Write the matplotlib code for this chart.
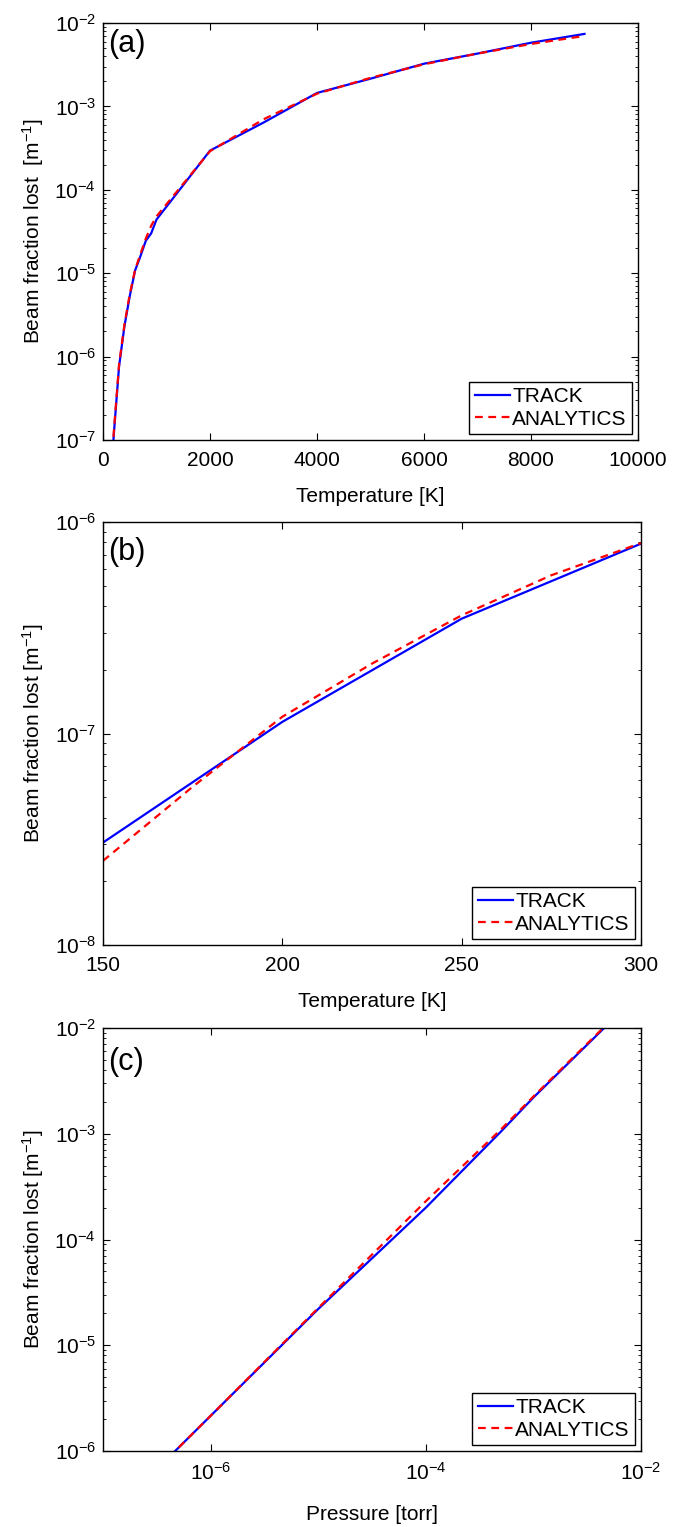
import matplotlib
matplotlib.use("Agg")
import matplotlib.pyplot as plt
from matplotlib.ticker import LogLocator, NullLocator, FixedLocator

plt.rcParams.update({
    "font.family": "Liberation Sans",
    "mathtext.fontset": "custom",
    "mathtext.rm": "Liberation Sans",
    "mathtext.it": "Liberation Sans:italic",
    "font.size": 15,
    "axes.linewidth": 1.0,
    "xtick.direction": "in",
    "ytick.direction": "in",
    "xtick.top": True,
    "ytick.right": True,
    "xtick.major.size": 5,
    "ytick.major.size": 5,
    "xtick.minor.size": 2.5,
    "ytick.minor.size": 2.5,
    "xtick.major.pad": 8,
    "ytick.major.pad": 5,
})

TRACK_COLOR = "#0000ff"
ANALYTIC_COLOR = "#ff0000"

# (a) temperature scan, wide range
temp_a = [150, 200, 300, 400, 500, 600, 700, 800, 900, 1000,
          2000, 3000, 4000, 5000, 6000, 7000, 8000, 9000]
track_a = [3.0e-8, 1.12e-7, 7.6e-7, 2.3e-6, 5.3e-6, 1.08e-5, 1.6e-5, 2.45e-5, 3.0e-5, 4.4e-5,
           2.95e-4, 6.4e-4, 1.45e-3, 2.15e-3, 3.25e-3, 4.3e-3, 5.8e-3, 7.4e-3]
analytic_a = [2.5e-8, 1.2e-7, 8.0e-7, 2.4e-6, 5.6e-6, 1.1e-5, 1.7e-5, 2.6e-5, 3.7e-5, 4.8e-5,
              2.9e-4, 7.0e-4, 1.42e-3, 2.2e-3, 3.2e-3, 4.3e-3, 5.6e-3, 7.0e-3]

# (b) temperature scan, 150-300 K
temp_b_track = [150, 200, 250, 300]
track_b = [3.05e-8, 1.135e-7, 3.49e-7, 7.9e-7]
temp_b_analytic = [150, 175, 200, 225, 250, 275, 300]
analytic_b = [2.5e-8, 5.6e-8, 1.2e-7, 2.14e-7, 3.62e-7, 5.6e-7, 7.95e-7]

# (c) pressure scan
pressure_c = [1e-7, 1e-6, 1e-5, 1e-4, 5e-4, 1e-3, 1e-2]
track_c = [2.1e-7, 2.15e-6, 2.2e-5, 2.0e-4, 1.05e-3, 2.2e-3, 2.2e-2]
analytic_c = [2.1e-7, 2.15e-6, 2.25e-5, 2.3e-4, 1.1e-3, 2.25e-3, 2.25e-2]

W, H = 684, 1527
fig = plt.figure(figsize=(W / 100, H / 100), dpi=100)


def box(left, top, right, bottom):
    return [left / W, 1 - bottom / H, (right - left) / W, (bottom - top) / H]


def draw(ax, x1, y1, x2, y2, label, label_y):
    ax.plot(x1, y1, color=TRACK_COLOR, lw=1.6, label="TRACK")
    ax.plot(x2, y2, color=ANALYTIC_COLOR, lw=1.6, ls=(0, (3.5, 2.5)), label="ANALYTICS")
    ax.set_yscale("log")
    ax.yaxis.set_major_locator(LogLocator(base=10, numticks=20))
    ax.yaxis.set_minor_locator(LogLocator(base=10, subs=range(2, 10), numticks=20))
    ax.text(0.009, label_y, label, transform=ax.transAxes, fontsize=22,
            ha="left", va="top")
    leg = ax.legend(loc="lower right", fontsize=15, frameon=True, fancybox=False,
                    edgecolor="black", framealpha=1, borderaxespad=0.3,
                    handlelength=1.7, handletextpad=0.1, borderpad=0.25,
                    labelspacing=0.15)
    leg.get_frame().set_linewidth(1.0)
    ax.tick_params(which="both", labelsize=15)


ax_a = fig.add_axes(box(103, 23, 638, 440))
draw(ax_a, temp_a, track_a, temp_a, analytic_a, "(a)", 0.985)
ax_a.set_xlim(0, 10000)
ax_a.set_ylim(1e-7, 1e-2)
ax_a.set_xticks([0, 2000, 4000, 6000, 8000, 10000])
ax_a.xaxis.set_minor_locator(NullLocator())
ax_a.set_xlabel("Temperature [K]", labelpad=12)
ax_a.set_ylabel("Beam fraction lost  [m$^{-1}$]", labelpad=6)

ax_b = fig.add_axes(box(103, 522, 641, 945))
draw(ax_b, temp_b_track, track_b, temp_b_analytic, analytic_b, "(b)", 0.965)
ax_b.set_xlim(150, 300)
ax_b.set_ylim(1e-8, 1e-6)
ax_b.set_xticks([150, 200, 250, 300])
ax_b.xaxis.set_minor_locator(NullLocator())
ax_b.set_xlabel("Temperature [K]", labelpad=12)
ax_b.set_ylabel("Beam fraction lost [m$^{-1}$]", labelpad=6)

ax_c = fig.add_axes(box(103, 1028, 641, 1451))
draw(ax_c, pressure_c, track_c, pressure_c, analytic_c, "(c)", 0.955)
ax_c.set_xscale("log")
ax_c.set_xlim(1e-7, 1e-2)
ax_c.set_ylim(1e-6, 1e-2)
ax_c.xaxis.set_major_locator(FixedLocator([1e-6, 1e-4, 1e-2]))
ax_c.xaxis.set_minor_locator(NullLocator())
ax_c.set_xlabel("Pressure [torr]", labelpad=15)
ax_c.set_ylabel("Beam fraction lost [m$^{-1}$]", labelpad=6)

fig.savefig("out.png", dpi=100)
